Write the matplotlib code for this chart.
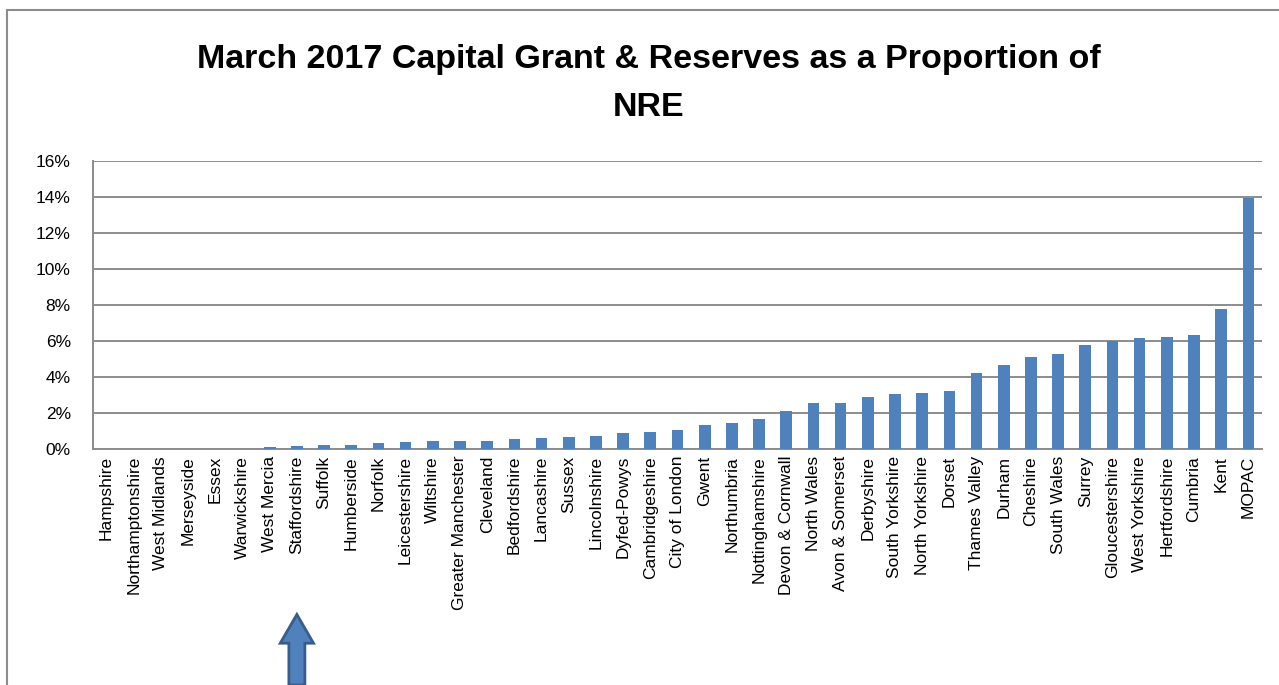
import matplotlib.pyplot as plt
import matplotlib.patches as patches
import numpy as np

plt.rcParams['font.family'] = ['Liberation Sans', 'DejaVu Sans']

# Data
forces = ['Hampshire', 'Northamptonshire', 'West Midlands', 'Merseyside', 'Essex',
          'Warwickshire', 'West Mercia', 'Staffordshire', 'Suffolk', 'Humberside',
          'Norfolk', 'Leicestershire', 'Wiltshire', 'Greater Manchester', 'Cleveland',
          'Bedfordshire', 'Lancashire', 'Sussex', 'Lincolnshire', 'Dyfed-Powys',
          'Cambridgeshire', 'City of London', 'Gwent', 'Northumbria', 'Nottinghamshire',
          'Devon & Cornwall', 'North Wales', 'Avon & Somerset', 'Derbyshire',
          'South Yorkshire', 'North Yorkshire', 'Dorset', 'Thames Valley', 'Durham',
          'Cheshire', 'South Wales', 'Surrey', 'Gloucestershire', 'West Yorkshire',
          'Hertfordshire', 'Cumbria', 'Kent', 'MOPAC']
pct = [0.0, 0.0, 0.0, 0.0, 0.0,
       0.0, 0.12, 0.15, 0.22, 0.25,
       0.32, 0.38, 0.43, 0.45, 0.47,
       0.57, 0.62, 0.68, 0.70, 0.87,
       0.92, 1.05, 1.31, 1.46, 1.67,
       2.11, 2.54, 2.55, 2.87,
       3.08, 3.12, 3.21, 4.22, 4.68,
       5.12, 5.26, 5.80, 5.98, 6.17,
       6.25, 6.33, 7.80, 13.95]
highlight = 'Staffordshire'

title_lines = ['March 2017 Capital Grant & Reserves as a Proportion of', 'NRE']

fig = plt.figure(figsize=(12.79, 6.85), dpi=100)
ax = fig.add_axes([0.0727, 0.3445, 0.9140, 0.4205])

x = np.arange(len(forces))
ax.bar(x, pct, width=0.43, color='#4f81bd', zorder=3)

ax.set_xlim(-0.5, len(forces) - 0.5)
ax.set_ylim(0, 16)
ax.set_yticks(np.arange(0, 17, 2))
ax.set_yticklabels(['%d%%' % v for v in range(0, 17, 2)], fontsize=12.5)
ax.set_xticks(x)
ax.set_xticklabels(forces, rotation=90, fontsize=12.5)
ax.tick_params(axis='both', length=0)
ax.tick_params(axis='x', pad=5)
ax.tick_params(axis='y', pad=16)

ax.grid(axis='y', color='#8c8c8c', linewidth=1.4, zorder=0)
for side in ['top', 'right']:
    ax.spines[side].set_visible(False)
for side in ['left', 'bottom']:
    ax.spines[side].set_color('#8c8c8c')
    ax.spines[side].set_linewidth(1.4)

fig.text(0.507, 0.913, title_lines[0], ha='center', va='center',
         fontsize=24.5, fontweight='bold')
fig.text(0.507, 0.843, title_lines[1], ha='center', va='center',
         fontsize=24.5, fontweight='bold')

# outer chart border
fig.patches.append(patches.Rectangle((0.0055, -0.05), 1.2, 1.035, transform=fig.transFigure,
                                     fill=False, edgecolor='#8c8c8c', linewidth=1.5))

# arrow pointing at the highlighted force
xi = forces.index(highlight)
xpix = ax.transData.transform((xi, 0))[0]
xf = xpix / fig.bbox.width
fig.patches.append(patches.FancyArrow(xf, 0.0, 0, 0.103, width=0.0125,
                                      head_width=0.026, head_length=0.042,
                                      length_includes_head=True,
                                      transform=fig.transFigure,
                                      facecolor='#4f81bd', edgecolor='#385d8a',
                                      linewidth=2))

fig.savefig('out.png', dpi=100)
